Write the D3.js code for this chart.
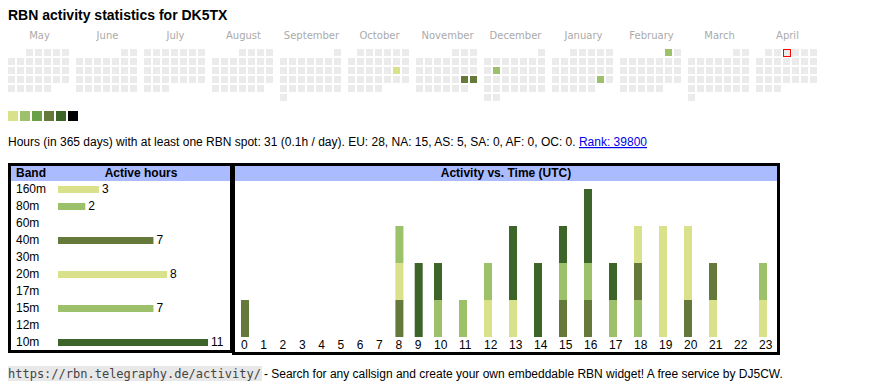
<!DOCTYPE html>
<html>
<head>
<meta charset="utf-8">
<script src="https://cdn.jsdelivr.net/npm/d3@7"></script>
<style>
  body { margin: 0; background: #fff; }
  text { font-family: "Liberation Sans", Arial, sans-serif; }
</style>
</head>
<body>
<div id="chart"></div>
<script>
// calendar data
var months = ["2024-05", "2024-06", "2024-07", "2024-08", "2024-09", "2024-10",
              "2024-11", "2024-12", "2025-01", "2025-02", "2025-03", "2025-04"];
var monthNames = ["May", "June", "July", "August", "September", "October",
                  "November", "December", "January", "February", "March", "April"];
var activeDays = ["2024-10-19", "2024-11-23", "2024-11-24", "2024-12-10", "2025-01-25", "2025-02-01"];
var activeLevels = [1, 4, 4, 2, 2, 2];
var today = "2025-04-03";
var levelColors = ["#ebebeb", "#d9e18a", "#9dc06a", "#6aa048", "#657a3a", "#3d6529", "#000000"];

// band data
var bands = ["160m", "80m", "60m", "40m", "30m", "20m", "17m", "15m", "12m", "10m"];
var bandHours = [3, 2, 0, 7, 0, 8, 0, 7, 0, 11];
var bandColors = ["#d9e18a", "#9dc06a", "#6aa048", "#657a3a", "#3d6529",
                  "#d9e18a", "#6aa048", "#9dc06a", "#657a3a", "#3d6529"];

// activity per hour (UTC), one array per band
var hours = d3.range(24);
var hourly = {
  "160m": [0,0,0,0,0,0,0,0,0,0,0,0,1,0,0,0,0,0,0,0,0,1,0,1],
  "80m":  [0,0,0,0,0,0,0,0,0,0,1,0,0,0,0,0,0,0,1,0,0,0,0,0],
  "60m":  [0,0,0,0,0,0,0,0,0,0,0,0,0,0,0,0,0,0,0,0,0,0,0,0],
  "40m":  [1,0,0,0,0,0,0,0,1,0,0,0,0,0,0,1,1,0,1,0,1,1,0,0],
  "30m":  [0,0,0,0,0,0,0,0,0,0,0,0,0,0,0,0,0,0,0,0,0,0,0,0],
  "20m":  [0,0,0,0,0,0,0,0,1,0,0,0,0,1,0,0,0,0,1,3,2,0,0,0],
  "17m":  [0,0,0,0,0,0,0,0,0,0,0,0,0,0,0,0,0,0,0,0,0,0,0,0],
  "15m":  [0,0,0,0,0,0,0,0,1,0,0,1,1,0,0,1,1,1,0,0,0,0,0,1],
  "12m":  [0,0,0,0,0,0,0,0,0,0,0,0,0,0,0,0,0,0,0,0,0,0,0,0],
  "10m":  [0,0,0,0,0,0,0,0,0,2,1,0,0,2,2,1,2,1,0,0,0,0,0,0]
};

var width = 870, height = 390;
var svg = d3.select("#chart").append("svg")
  .attr("width", width)
  .attr("height", height);

// title
svg.append("text")
  .attr("x", 8).attr("y", 20)
  .style("font-size", "14px").style("font-weight", "bold")
  .text("RBN activity statistics for DK5TX");

// ---- calendar heatmap ----
var parseDay = d3.timeParse("%Y-%m-%d");
var parseMonth = d3.timeParse("%Y-%m");
var fmt = d3.timeFormat("%Y-%m-%d");
var levelByDay = {};
activeDays.forEach(function(d, i) { levelByDay[d] = activeLevels[i]; });

var blockX = d3.scaleBand().domain(months).range([8, 8 + 68 * 12]).paddingInner(0);
var cell = 9, cellSize = 7;

var cal = svg.append("g").attr("transform", "translate(0,49)");
months.forEach(function(m, i) {
  var start = parseMonth(m);
  var days = d3.timeDay.range(start, d3.timeMonth.offset(start, 1));
  var firstCol = (start.getDay() + 6) % 7;
  var x0 = blockX(m);

  svg.append("text")
    .attr("x", x0 + 31.5).attr("y", 39)
    .attr("text-anchor", "middle")
    .style("font-family", "DejaVu Sans, sans-serif")
    .style("font-size", "10px")
    .style("fill", "#aaaaaa")
    .text(monthNames[i]);

  cal.selectAll(null)
    .data(days)
    .enter().append("rect")
    .attr("x", function(d) { return x0 + ((d.getDay() + 6) % 7) * cell; })
    .attr("y", function(d) { return Math.floor((d.getDate() - 1 + firstCol) / 7) * cell; })
    .attr("width", cellSize).attr("height", cellSize)
    .style("fill", function(d) { return levelColors[levelByDay[fmt(d)] || 0]; });
});

// today marker
var t = parseDay(today);
var tStart = d3.timeMonth.floor(t);
var tCol = (tStart.getDay() + 6) % 7;
cal.append("rect")
  .attr("x", blockX(d3.timeFormat("%Y-%m")(t)) + ((t.getDay() + 6) % 7) * cell + 0.5)
  .attr("y", Math.floor((t.getDate() - 1 + tCol) / 7) * cell + 0.5)
  .attr("width", cellSize).attr("height", cellSize)
  .style("fill", "#ebebeb").style("stroke", "red").style("stroke-width", 1);

// legend
svg.selectAll(".leg")
  .data(levelColors.slice(1))
  .enter().append("rect")
  .attr("x", function(d, i) { return 8 + i * 12; })
  .attr("y", 111)
  .attr("width", 10).attr("height", 10)
  .style("fill", function(d) { return d; });

// summary line
var summary = svg.append("text")
  .attr("x", 8).attr("y", 146)
  .style("font-size", "12px");
summary.append("tspan")
  .text("Hours (in 365 days) with at least one RBN spot: 31 (0.1h / day). EU: 28, NA: 15, AS: 5, SA: 0, AF: 0, OC: 0. ");
summary.append("tspan")
  .style("fill", "#0000ee")
  .style("text-decoration", "underline")
  .text("Rank: 39800");

// ---- left box: active hours per band ----
var left = svg.append("g");
left.append("rect")
  .attr("x", 9.5).attr("y", 164.5).attr("width", 222).attr("height", 187)
  .style("fill", "#fff").style("stroke", "#000").style("stroke-width", 3);
left.append("rect")
  .attr("x", 11).attr("y", 166).attr("width", 219).attr("height", 15)
  .style("fill", "#aabbff");
left.append("text")
  .attr("x", 16).attr("y", 177)
  .style("font-size", "12px").style("font-weight", "bold")
  .text("Band");
left.append("text")
  .attr("x", 141).attr("y", 177)
  .attr("text-anchor", "middle")
  .style("font-size", "12px").style("font-weight", "bold")
  .text("Active hours");

var rowY = d3.scalePoint().domain(bands).range([193, 346]);
var barX = d3.scaleLinear().domain([0, 11]).range([58, 208]);

var rows = left.selectAll(".row")
  .data(bands)
  .enter().append("g");
rows.append("text")
  .attr("x", 16)
  .attr("y", function(d) { return rowY(d); })
  .style("font-size", "12px")
  .text(function(d) { return d; });
rows.filter(function(d, i) { return bandHours[i] > 0; })
  .append("rect")
  .attr("x", barX(0))
  .attr("y", function(d) { return rowY(d) - 7; })
  .attr("width", function(d) { return barX(bandHours[bands.indexOf(d)]) - barX(0); })
  .attr("height", 7)
  .style("fill", function(d) { return bandColors[bands.indexOf(d)]; });
rows.filter(function(d, i) { return bandHours[i] > 0; })
  .append("text")
  .attr("x", function(d) { return barX(bandHours[bands.indexOf(d)]) + 3; })
  .attr("y", function(d) { return rowY(d); })
  .style("font-size", "12px")
  .text(function(d) { return bandHours[bands.indexOf(d)]; });

// ---- right box: activity vs time ----
var right = svg.append("g");
right.append("rect")
  .attr("x", 233.5).attr("y", 164.5).attr("width", 545).attr("height", 189)
  .style("fill", "#fff").style("stroke", "#000").style("stroke-width", 3);
right.append("rect")
  .attr("x", 235).attr("y", 166).attr("width", 542).attr("height", 15)
  .style("fill", "#aabbff");
right.append("text")
  .attr("x", 506).attr("y", 177)
  .attr("text-anchor", "middle")
  .style("font-size", "12px").style("font-weight", "bold")
  .text("Activity vs. Time (UTC)");

// column positions follow the label widths (table-like layout)
var colX = [];
hours.reduce(function(acc, h) {
  colX.push(acc);
  return acc + (String(h).length > 1 ? 25 : 19.3);
}, 241);
var x = d3.scaleOrdinal().domain(hours).range(colX);
var y = d3.scaleLinear().domain([0, 4]).range([337, 189]);

var stackData = hours.map(function(h) {
  var o = {hour: h};
  bands.forEach(function(b) { o[b] = hourly[b][h]; });
  return o;
});
var series = d3.stack().keys(bands)(stackData);

right.selectAll(".layer")
  .data(series)
  .enter().append("g")
  .style("fill", function(d) { return bandColors[bands.indexOf(d.key)]; })
  .selectAll("rect")
  .data(function(d) { return d.filter(function(p) { return p[1] > p[0]; }); })
  .enter().append("rect")
  .attr("x", function(d) { return x(d.data.hour); })
  .attr("y", function(d) { return y(d[1]); })
  .attr("width", 8)
  .attr("height", function(d) { return y(d[0]) - y(d[1]); });

right.selectAll(".hl")
  .data(hours)
  .enter().append("text")
  .attr("x", function(d) { return x(d); })
  .attr("y", 349)
  .style("font-size", "12px")
  .text(function(d) { return d; });

// ---- footer ----
var url = "https://rbn.telegraphy.de/activity/";
var footer = svg.append("g");
var urlBg = footer.append("rect")
  .style("fill", "#e8e8e8");
var mono = footer.append("text")
  .attr("x", 8).attr("y", 378)
  .style("font-family", "DejaVu Sans Mono, monospace")
  .style("font-size", "12px")
  .style("fill", "#444")
  .text(url);
var bb = mono.node().getBBox();
urlBg.attr("x", bb.x).attr("y", 366)
  .attr("width", bb.width + 1).attr("height", 15);
footer.append("text")
  .attr("x", bb.x + bb.width + 3).attr("y", 378)
  .style("font-size", "12px")
  .text("- Search for any callsign and create your own embeddable RBN widget! A free service by DJ5CW.");
</script>
</body>
</html>
